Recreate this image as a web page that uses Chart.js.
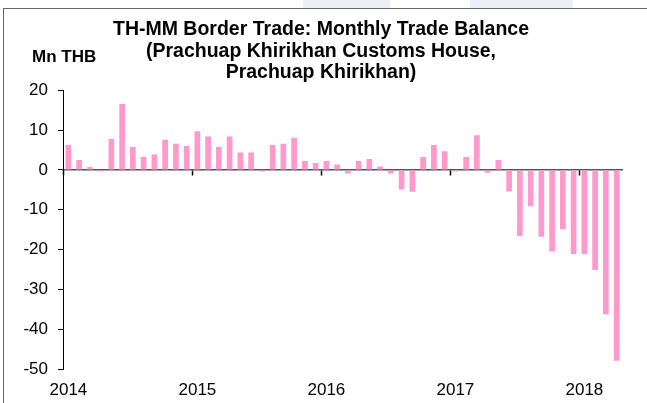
<!DOCTYPE html>
<html>
<head>
<meta charset="utf-8">
<script src="https://cdn.jsdelivr.net/npm/chart.js@4/dist/chart.umd.min.js"></script>
<style>
  body { margin: 0; background: #fff; }
  #wrap { position: relative; width: 647px; height: 403px; overflow: hidden; }
  #frame { position: absolute; left: 3px; top: 8px; width: 660px; height: 420px; border: 1px solid #666; box-sizing: border-box; }
  .mark { position: absolute; top: 0; height: 8px; background: #eceef8; }
  #unit { position: absolute; left: 32px; top: 47px; font: bold 17px Arial, "Liberation Sans", sans-serif; line-height: 20px; color: #000; }
  canvas { position: absolute; left: 0; top: 0; }
</style>
</head>
<body>
<div id="wrap">
  <div class="mark" style="left:303px;width:87px"></div>
  <div class="mark" style="left:470px;width:103px"></div>
  <div id="frame"></div>
  <canvas id="tradeChart" width="647" height="403"></canvas>
  <div id="unit">Mn THB</div>
</div>
<script>
// Years and months shown on the category axis
const years = [2014, 2015, 2016, 2017, 2018];
const months = ['Jan', 'Feb', 'Mar', 'Apr', 'May', 'Jun', 'Jul', 'Aug', 'Sep', 'Oct', 'Nov', 'Dec'];
const monthsIn2018 = 4;

// Monthly trade balance, Mn THB
const balance = [
    6.25, 2.5, 0.75, -0.4, 7.8, 16.6, 5.75, 3.25, 3.9, 7.6, 6.6, 6.0,       // 2014
    9.75, 8.4, 5.75, 8.4, 4.4, 4.4, -0.4, 6.25, 6.6, 8.1, 2.25, 1.75,       // 2015
    2.25, 1.4, -0.9, 2.25, 2.75, 0.9, -0.9, -4.9, -5.5, 3.25, 6.25, 4.7,    // 2016
    -0.4, 3.25, 8.7, -0.7, 2.5, -5.4, -16.6, -9.1, -16.8, -20.5, -14.9, -21.1, // 2017
    -21.1, -25.1, -36.25, -47.9                                              // 2018
];

const yTicks = [-50, -40, -30, -20, -10, 0, 10, 20];

// Build "Mon YYYY" labels
const labels = [];
years.forEach(y => {
    const count = y === 2018 ? monthsIn2018 : 12;
    for (let m = 0; m < count; m++) labels.push(months[m] + ' ' + y);
});

const FONT = 'Arial, "Liberation Sans", sans-serif';

const ctx = document.getElementById('tradeChart').getContext('2d');
new Chart(ctx, {
    type: 'bar',
    data: {
        labels: labels,
        datasets: [{
            label: 'Trade balance',
            data: balance,
            backgroundColor: '#FF99CC',
            borderWidth: 0,
            categoryPercentage: 1,
            barPercentage: 0.53,
            xAxisID: 'x'
        }]
    },
    options: {
        responsive: false,
        animation: false,
        layout: { padding: { top: 7, right: 25, bottom: 3, left: 20 } },
        plugins: {
            legend: { display: false },
            tooltip: { enabled: false },
            title: {
                display: true,
                text: ['TH-MM Border Trade: Monthly Trade Balance', '(Prachuap Khirikhan Customs House,', 'Prachuap Khirikhan)'],
                color: '#000',
                font: { family: FONT, size: 19.5, weight: 'bold', lineHeight: 1.1 },
                padding: { top: 12, bottom: 7 }
            }
        },
        scales: {
            x: {
                type: 'category',
                offset: true,
                afterFit: scale => { scale.height = 31; },
                border: { display: false },
                grid: { display: false, drawTicks: false },
                ticks: {
                    autoSkip: false,
                    maxRotation: 0,
                    padding: 11,
                    color: '#000',
                    font: { family: FONT, size: 17 },
                    callback: function(value, index) {
                        return index % 12 === 0 ? labels[index].slice(4) : '';
                    }
                }
            },
            // zero line with year tick marks
            x2: {
                type: 'category',
                position: { y: 0 },
                offset: true,
                z: 1,
                afterFit: scale => { scale.height = 0; },
                border: { display: true, color: '#555', width: 1.5 },
                grid: {
                    offset: true,
                    drawOnChartArea: false,
                    drawTicks: true,
                    tickLength: 5,
                    tickWidth: 1.5,
                    tickColor: c => (c.index % 12 === 0 ? '#000' : 'rgba(0,0,0,0)')
                },
                ticks: { display: false }
            },
            y: {
                min: -50,
                max: 20,
                afterFit: scale => { scale.width = 43; },
                afterBuildTicks: scale => { scale.ticks = yTicks.map(v => ({ value: v })); },
                border: { display: true, color: '#000', width: 1 },
                grid: { drawOnChartArea: false, drawTicks: true, tickLength: 5, color: '#000' },
                ticks: {
                    padding: 10,
                    color: '#000',
                    font: { family: FONT, size: 17 }
                }
            }
        }
    }
});
</script>
</body>
</html>
